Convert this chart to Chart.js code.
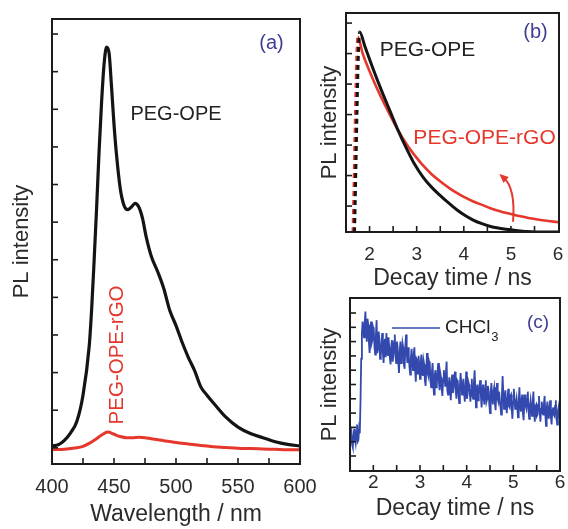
<!DOCTYPE html>
<html><head><meta charset="utf-8">
<script src="https://cdn.jsdelivr.net/npm/chart.js@4.4.1/dist/chart.umd.min.js"></script>
<style>
html,body{margin:0;padding:0;background:#fff;}
body{width:568px;height:529px;position:relative;overflow:hidden;}
canvas{position:absolute;}
#ca{left:0;top:0;}
#cb{left:300px;top:0;}
#cc{left:300px;top:285px;}
</style></head><body>
<canvas id="ca" width="340" height="529"></canvas>
<canvas id="cb" width="290" height="295"></canvas>
<canvas id="cc" width="268" height="244"></canvas>
<script>
// ---------- Panel (a): PL spectra ----------
const wavelengthBlack = [400,405,410,415,420,425,430,432,434,436,438,440,442,444,446,448,450,452,455,458,461,464,467,470,473,476,480,485,490,495,500,505,510,515,520,525,530,540,550,560,570,580,590,600];
const plPegOpe = [0.05,0.08,0.2,0.4,0.7,1.4,2.7,3.7,5.0,6.4,7.9,9.2,10.2,10.65,10.5,9.6,8.6,7.8,6.9,6.45,6.33,6.4,6.5,6.4,6.1,5.6,5.1,4.7,4.25,3.65,3.25,2.8,2.4,2.05,1.62,1.4,1.2,0.82,0.55,0.38,0.27,0.16,0.09,0.05];
const wavelengthRed = [400,410,420,425,430,435,440,445,450,455,460,465,470,475,480,490,500,510,520,530,540,550,560,570,580,590,600];
const plPegOpeRgo = [-0.05,-0.04,0.0,0.04,0.12,0.22,0.34,0.42,0.36,0.3,0.27,0.27,0.28,0.27,0.24,0.19,0.14,0.1,0.06,0.03,0.01,-0.01,-0.02,-0.03,-0.04,-0.05,-0.05];

// ---------- Panel (b): decay curves ----------
const decayTimeBlack = [1.68,1.79,1.9,2.06,2.25,2.43,2.6,2.79,2.96,3.13,3.31,3.49,3.67,3.85,4.02,4.19,4.37,4.55,4.73,4.91,5.1,5.3,5.5,6.02];
const decayPegOpe = [-0.85,5.71,5.24,4.56,3.8,3.13,2.5,1.87,1.36,0.96,0.63,0.36,0.11,-0.12,-0.3,-0.45,-0.57,-0.66,-0.72,-0.76,-0.8,-0.83,-0.85,-0.85];
const decayTimeRed = [1.645,1.75,1.85,2.06,2.25,2.43,2.6,2.79,3.0,3.13,3.3,3.49,3.7,3.85,4.0,4.19,4.4,4.55,4.75,4.91,5.1,5.26,5.45,5.6,5.8,6.02];
const decayPegOpeRgo = [-0.85,5.55,5.02,4.2,3.55,3.0,2.5,2.02,1.58,1.34,1.07,0.82,0.58,0.43,0.3,0.16,0.03,-0.06,-0.16,-0.23,-0.3,-0.35,-0.41,-0.45,-0.49,-0.53];

// ---------- Panel (c): CHCl3 decay ----------
const decayTimeC = [
1.500,1.515,1.530,1.545,1.560,1.575,1.590,1.605,1.620,1.635,1.650,1.665,1.680,1.695,1.710,1.725,1.740,1.755,1.770,1.785,
1.800,1.815,1.830,1.845,1.860,1.875,1.890,1.905,1.920,1.935,1.950,1.965,1.980,1.995,2.010,2.025,2.040,2.055,2.070,2.085,
2.100,2.115,2.130,2.145,2.160,2.175,2.190,2.205,2.220,2.235,2.250,2.265,2.280,2.295,2.310,2.325,2.340,2.355,2.370,2.385,
2.400,2.415,2.430,2.445,2.460,2.475,2.490,2.505,2.520,2.535,2.550,2.565,2.580,2.595,2.610,2.625,2.640,2.655,2.670,2.685,
2.700,2.715,2.730,2.745,2.760,2.775,2.790,2.805,2.820,2.835,2.850,2.865,2.880,2.895,2.910,2.925,2.940,2.955,2.970,2.985,
3.000,3.015,3.030,3.045,3.060,3.075,3.090,3.105,3.120,3.135,3.150,3.165,3.180,3.195,3.210,3.225,3.240,3.255,3.270,3.285,
3.300,3.315,3.330,3.345,3.360,3.375,3.390,3.405,3.420,3.435,3.450,3.465,3.480,3.495,3.510,3.525,3.540,3.555,3.570,3.585,
3.600,3.615,3.630,3.645,3.660,3.675,3.690,3.705,3.720,3.735,3.750,3.765,3.780,3.795,3.810,3.825,3.840,3.855,3.870,3.885,
3.900,3.915,3.930,3.945,3.960,3.975,3.990,4.005,4.020,4.035,4.050,4.065,4.080,4.095,4.110,4.125,4.140,4.155,4.170,4.185,
4.200,4.215,4.230,4.245,4.260,4.275,4.290,4.305,4.320,4.335,4.350,4.365,4.380,4.395,4.410,4.425,4.440,4.455,4.470,4.485,
4.500,4.515,4.530,4.545,4.560,4.575,4.590,4.605,4.620,4.635,4.650,4.665,4.680,4.695,4.710,4.725,4.740,4.755,4.770,4.785,
4.800,4.815,4.830,4.845,4.860,4.875,4.890,4.905,4.920,4.935,4.950,4.965,4.980,4.995,5.010,5.025,5.040,5.055,5.070,5.085,
5.100,5.115,5.130,5.145,5.160,5.175,5.190,5.205,5.220,5.235,5.250,5.265,5.280,5.295,5.310,5.325,5.340,5.355,5.370,5.385,
5.400,5.415,5.430,5.445,5.460,5.475,5.490,5.505,5.520,5.535,5.550,5.565,5.580,5.595,5.610,5.625,5.640,5.655,5.670,5.685,
5.700,5.715,5.730,5.745,5.760,5.775,5.790,5.805,5.820,5.835,5.850,5.865,5.880,5.895,5.910,5.925,5.940,5.955,5.970,5.985,
6.000];
const decayChcl3 = [
1.0,1.5,1.7,0.8,0.6,1.4,1.9,1.2,0.9,1.7,2.2,1.0,1.1,1.9,1.6,3.8,6.8,8.6,9.4,8.9,
8.3,9.3,10.1,8.9,8.0,9.6,9.2,8.0,7.2,8.6,9.4,7.9,8.1,9.0,8.8,7.6,7.1,8.4,9.5,7.2,
7.5,8.7,8.1,6.8,7.0,7.9,8.6,7.2,6.5,7.8,8.2,6.9,8.6,7.7,7.0,8.3,7.6,6.8,6.4,7.7,
8.1,6.6,7.1,7.9,8.5,7.0,6.5,8.0,7.6,6.6,5.8,7.3,8.0,6.5,7.0,7.9,7.6,6.4,6.1,7.6,
8.5,7.2,6.5,7.6,7.0,6.2,5.7,6.9,7.5,6.6,6.0,7.1,7.6,6.1,5.2,6.8,6.7,5.7,7.0,6.2,
5.4,6.5,7.1,5.9,5.6,6.7,6.4,5.3,4.9,6.1,7.2,5.8,5.6,6.6,6.4,5.2,4.8,5.9,6.5,5.0,
4.3,5.6,6.0,4.8,5.0,5.9,6.5,5.2,4.6,5.8,5.5,4.7,4.2,5.3,6.0,5.5,4.9,5.8,6.6,4.6,
4.3,5.0,5.5,4.6,3.9,5.2,5.7,4.4,4.8,5.4,5.9,4.6,4.0,5.3,5.2,4.3,3.7,4.9,5.8,5.1,
4.3,4.9,5.4,4.4,3.8,4.8,5.9,4.0,4.3,5.2,5.0,4.5,3.8,4.6,5.4,4.2,4.0,5.1,6.0,4.8,
3.4,4.6,5.0,3.9,4.3,4.9,5.3,4.2,3.4,4.4,5.0,4.0,3.6,4.7,5.3,3.8,4.0,4.9,4.6,3.6,
3.0,4.4,5.1,4.2,3.6,4.5,4.8,3.7,3.2,4.3,5.1,4.0,3.8,4.5,4.5,3.4,2.9,4.2,5.6,4.4,
3.3,4.1,4.6,3.6,3.0,3.9,4.7,3.5,3.4,4.2,4.3,3.3,2.6,3.8,4.7,4.0,3.3,3.6,4.0,3.4,
2.7,3.8,4.8,3.6,3.1,3.9,4.3,3.0,2.5,3.7,4.3,3.5,3.3,4.0,4.5,3.2,2.6,3.5,3.9,3.3,
2.8,3.7,4.5,3.2,2.4,3.5,3.6,2.8,2.9,3.6,4.2,3.1,2.4,3.3,3.8,3.0,2.9,3.6,4.2,3.0,
2.1,3.3,3.8,3.0,2.6,3.4,3.9,2.7,2.2,3.2,3.4,2.9,2.8,3.5,3.9,2.6,2.2,3.1,3.4,2.8,
2.6];

const xTickLabelsA = [400,450,500,550,600];
const xTickLabelsBC = [2,3,4,5,6];

// ---------- styling ----------
const FONT = '"Liberation Sans", Arial, Helvetica, sans-serif';
const BLACK = '#141414', RED = '#e5372b', BLUE = '#3349ad', TAG = '#3e3f92', TXT = '#2b2b2b';
Chart.defaults.font.family = FONT;
Chart.defaults.color = TXT;
Chart.defaults.animation = false;

const pts = (xs, ys) => xs.map((x, i) => ({x, y: ys[i]}));

function panelPlugin(spec) {
  return {
    id: 'panel_' + spec.name,
    afterDatasetsDraw(chart) {
      const {ctx, chartArea: a} = chart;
      const xs = chart.scales.x, ys = chart.scales.y;
      ctx.save();
      ctx.strokeStyle = '#1c1c1c';
      ctx.lineWidth = 1.6;
      xs.ticks.forEach(t => {
        const p = xs.getPixelForValue(t.value);
        if (p < a.left + 2 || p > a.right - 2) return;
        ctx.beginPath(); ctx.moveTo(p, a.bottom); ctx.lineTo(p, a.bottom - spec.tickLen); ctx.stroke();
      });
      ys.ticks.forEach(t => {
        const p = ys.getPixelForValue(t.value);
        if (p < a.top + 2 || p > a.bottom - 2) return;
        ctx.beginPath(); ctx.moveTo(a.left, p); ctx.lineTo(a.left + spec.tickLen, p); ctx.stroke();
      });
      ctx.lineWidth = 2;
      ctx.strokeRect(a.left, a.top, a.right - a.left, a.bottom - a.top);
      if (spec.extra) spec.extra(ctx, xs, ys);
      spec.texts.forEach(tx => {
        ctx.save();
        ctx.translate(xs.getPixelForValue(tx.x), ys.getPixelForValue(tx.y));
        if (tx.rot) ctx.rotate(tx.rot);
        ctx.font = tx.size + 'px ' + FONT;
        ctx.fillStyle = tx.color;
        ctx.textAlign = tx.align || 'center';
        ctx.textBaseline = 'middle';
        ctx.fillText(tx.text, 0, 0);
        if (tx.sub) {
          const w = ctx.measureText(tx.text).width;
          ctx.font = tx.subSize + 'px ' + FONT;
          ctx.textAlign = 'left';
          ctx.fillText(tx.sub, w + 1, 9);
        }
        ctx.restore();
      });
      ctx.restore();
    }
  };
}

function xAxis(o) {
  return {
    type: 'linear', position: 'bottom', min: o.min, max: o.max,
    afterFit: s => { s.height = o.height; },
    grid: {display: false, drawTicks: false}, border: {display: false},
    ticks: {
      stepSize: o.step, includeBounds: false, autoSkip: false, maxRotation: 0, minRotation: 0,
      padding: o.pad, font: {size: o.fs}, color: TXT,
      callback: v => o.labels.includes(Math.round(v * 1000) / 1000) ? String(Math.round(v)) : ''
    },
    title: {display: true, text: o.title, font: {size: 23}, color: TXT, padding: {top: 0, bottom: o.tpad}}
  };
}
function yAxis(o) {
  return {
    type: 'linear', min: o.min, max: o.max,
    afterFit: s => { s.width = o.width; },
    grid: {display: false, drawTicks: false}, border: {display: false},
    ticks: {display: false, stepSize: 1, includeBounds: false},
    title: {display: true, text: 'PL intensity', font: {size: 22}, color: TXT, padding: {top: o.tpad, bottom: 0}}
  };
}
const baseOpts = {
  responsive: false, animation: false, events: [],
  plugins: {legend: {display: false}, tooltip: {enabled: false}},
  elements: {point: {radius: 0}}
};

// Panel (a)
new Chart(document.getElementById('ca'), {
  type: 'line',
  data: {datasets: [
    {data: pts(wavelengthRed, plPegOpeRgo), borderColor: RED, borderWidth: 3, cubicInterpolationMode: 'monotone'},
    {data: pts(wavelengthBlack, plPegOpe), borderColor: BLACK, borderWidth: 3.2, cubicInterpolationMode: 'monotone'}
  ]},
  options: Object.assign({}, baseOpts, {
    layout: {padding: {left: 0, top: 19, right: 40, bottom: 0}},
    scales: {
      x: xAxis({min: 400, max: 600, step: 25, labels: xTickLabelsA, height: 65, pad: 11, fs: 20, title: 'Wavelength / nm', tpad: 1}),
      y: yAxis({min: -0.43, max: 11.4, width: 52, tpad: 9})
    }
  }),
  plugins: [panelPlugin({name: 'a', tickLen: 6, texts: [
    {text: 'PEG-OPE', x: 500, y: 8.86, size: 20, color: '#222'},
    {text: 'PEG-OPE-rGO', x: 453, y: 2.47, size: 20.5, color: RED, rot: -Math.PI / 2},
    {text: '(a)', x: 577, y: 10.74, size: 20, color: TAG}
  ]})]
});

// Panel (b)
const dashFirst = {borderDash: ctx => ctx.p0DataIndex === 0 ? [5, 4] : undefined};
const arrowB = {start: [5.045, -0.515], ctrl: [5.098, 0.59], tip: [4.754, 1.05]};
new Chart(document.getElementById('cb'), {
  type: 'line',
  data: {datasets: [
    {data: pts(decayTimeBlack, decayPegOpe), borderColor: BLACK, borderWidth: 3, cubicInterpolationMode: 'monotone', segment: dashFirst},
    {data: pts(decayTimeRed, decayPegOpeRgo), borderColor: RED, borderWidth: 2.6, cubicInterpolationMode: 'monotone', segment: dashFirst}
  ]},
  options: Object.assign({}, baseOpts, {
    layout: {padding: {left: 0, top: 13, right: 31, bottom: 0}},
    scales: {
      x: xAxis({min: 1.5, max: 6.02, step: 0.5, labels: xTickLabelsBC, height: 63, pad: 11, fs: 19, title: 'Decay time / ns', tpad: 3}),
      y: yAxis({min: -0.85, max: 6.33, width: 46, tpad: 17})
    }
  }),
  plugins: [panelPlugin({name: 'b', tickLen: 6, texts: [
    {text: 'PEG-OPE', x: 3.23, y: 5.11, size: 21, color: '#222'},
    {text: 'PEG-OPE-rGO', x: 4.44, y: 2.23, size: 21, color: RED},
    {text: '(b)', x: 5.52, y: 5.7, size: 20, color: TAG}
  ], extra(ctx, xs, ys) {
    const P = p => [xs.getPixelForValue(p[0]), ys.getPixelForValue(p[1])];
    const s = P(arrowB.start), c = P(arrowB.ctrl), e = P(arrowB.tip);
    const ang = Math.atan2(e[1] - c[1], e[0] - c[0]);
    const back = [e[0] - 6 * Math.cos(ang), e[1] - 6 * Math.sin(ang)];
    ctx.strokeStyle = RED; ctx.fillStyle = RED; ctx.lineWidth = 2;
    ctx.beginPath(); ctx.moveTo(s[0], s[1]); ctx.quadraticCurveTo(c[0], c[1], back[0], back[1]); ctx.stroke();
    const L = 9, W = 4;
    const bx = e[0] - L * Math.cos(ang), by = e[1] - L * Math.sin(ang);
    ctx.beginPath();
    ctx.moveTo(e[0], e[1]);
    ctx.lineTo(bx + W * Math.sin(ang), by - W * Math.cos(ang));
    ctx.lineTo(bx - W * Math.sin(ang), by + W * Math.cos(ang));
    ctx.closePath(); ctx.fill();
  }})]
});

// Panel (c)
const legendC = {from: 2.40, to: 3.43, y: 8.95};
new Chart(document.getElementById('cc'), {
  type: 'line',
  data: {datasets: [
    {data: pts(decayTimeC, decayChcl3), borderColor: BLUE, borderWidth: 1.8, tension: 0}
  ]},
  options: Object.assign({}, baseOpts, {
    layout: {padding: {left: 0, top: 13, right: 8, bottom: 0}},
    scales: {
      x: xAxis({min: 1.5, max: 6.0, step: 0.5, labels: xTickLabelsBC, height: 58, pad: 0, fs: 19, title: 'Decay time / ns', tpad: 7}),
      y: yAxis({min: -1.05, max: 11.05, width: 50, tpad: 17})
    }
  }),
  plugins: [panelPlugin({name: 'c', tickLen: 6, texts: [
    {text: 'CHCl', sub: '3', subSize: 13, x: 3.535, y: 8.95, size: 19, color: '#222', align: 'left'},
    {text: '(c)', x: 5.53, y: 9.3, size: 19, color: TAG}
  ], extra(ctx, xs, ys) {
    ctx.strokeStyle = BLUE; ctx.lineWidth = 1.4;
    const py = ys.getPixelForValue(legendC.y);
    ctx.beginPath(); ctx.moveTo(xs.getPixelForValue(legendC.from), py); ctx.lineTo(xs.getPixelForValue(legendC.to), py); ctx.stroke();
  }})]
});
</script></body></html>
